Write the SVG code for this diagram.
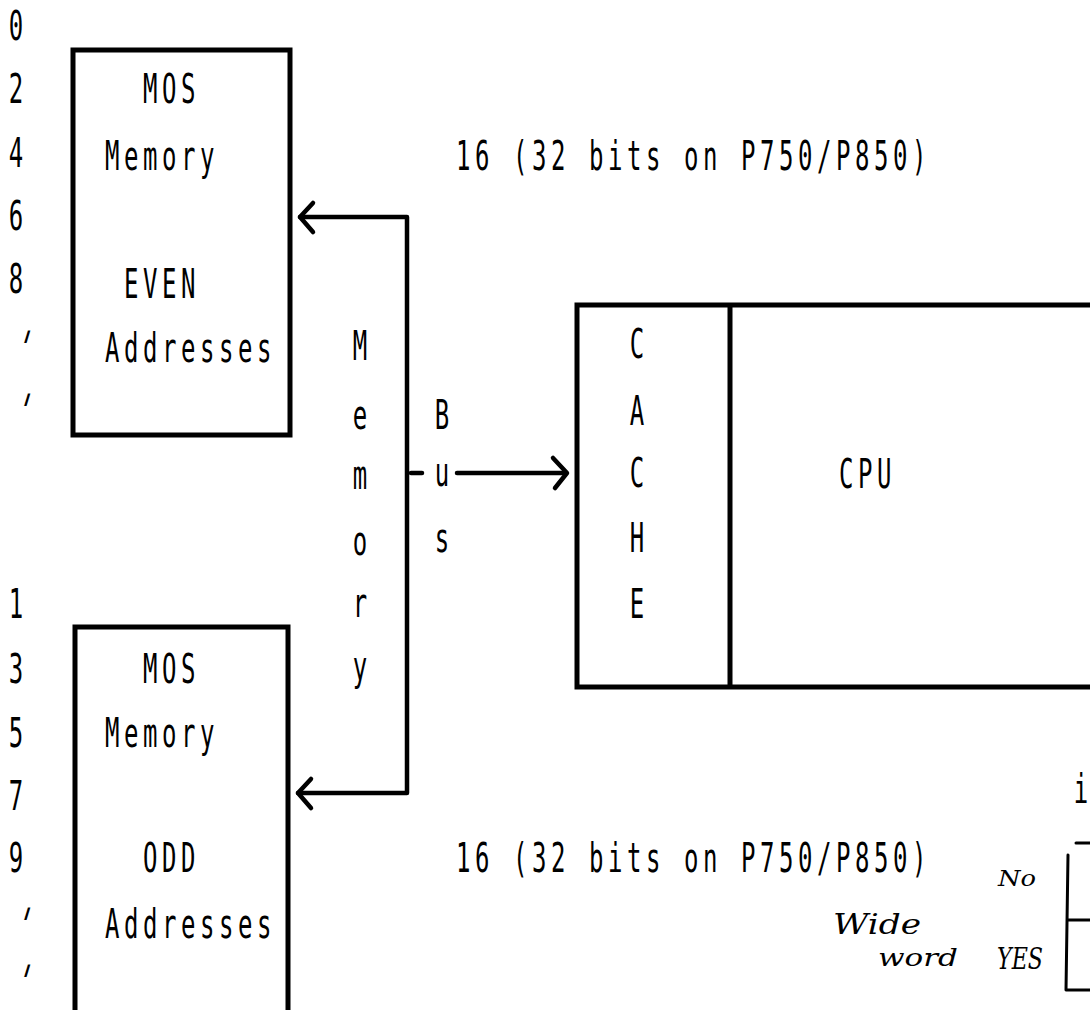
<svg xmlns="http://www.w3.org/2000/svg" width="1090" height="1010" viewBox="0 0 1090 1010">
<style>
.t{font-family:"DejaVu Sans Mono","Liberation Mono",monospace;font-size:40px;letter-spacing:7.6px;fill:#000;}
.c{font-family:"DejaVu Sans Mono","Liberation Mono",monospace;font-size:40px;fill:#000;text-anchor:middle;}
.h{font-family:"DejaVu Serif","Liberation Serif",serif;font-style:italic;fill:#000;}
.box{fill:none;stroke:#000;stroke-width:5;}
.ln{fill:none;stroke:#000;stroke-width:4.5;stroke-linecap:round;stroke-linejoin:round;}
.thin{fill:none;stroke:#000;stroke-width:3;stroke-linecap:round;stroke-linejoin:round;}
</style>
<rect width="1090" height="1010" fill="#fff"/>
<g id="addr-even">
<text class="c" transform="matrix(0.6 0 0 1 16 40)">0</text>
<text class="c" transform="matrix(0.6 0 0 1 16 103)">2</text>
<text class="c" transform="matrix(0.6 0 0 1 16 167)">4</text>
<text class="c" transform="matrix(0.6 0 0 1 16 230)">6</text>
<text class="c" transform="matrix(0.6 0 0 1 16 293)">8</text>
<text class="c" transform="matrix(0.7 0 -0.35 1.15 19 364)">'</text>
<text class="c" transform="matrix(0.7 0 -0.35 1.15 19 427)">'</text>
</g>
<g id="addr-odd">
<text class="c" transform="matrix(0.6 0 0 1 16 618)">1</text>
<text class="c" transform="matrix(0.6 0 0 1 16 683)">3</text>
<text class="c" transform="matrix(0.6 0 0 1 16 747)">5</text>
<text class="c" transform="matrix(0.6 0 0 1 16 810)">7</text>
<text class="c" transform="matrix(0.6 0 0 1 16 872)">9</text>
<text class="c" transform="matrix(0.7 0 -0.35 1.15 19 941)">'</text>
<text class="c" transform="matrix(0.7 0 -0.35 1.15 19 998)">'</text>
</g>
<g id="mem-even">
<rect class="box" x="73" y="50" width="217" height="385"/>
<text class="t" transform="matrix(0.6 0 0 1 143 103)">MOS</text>
<text class="t" transform="matrix(0.6 0 0 1 105 170)">Memory</text>
<text class="t" transform="matrix(0.6 0 0 1 124 298)">EVEN</text>
<text class="t" transform="matrix(0.6 0 0 1 105 362)">Addresses</text>
</g>
<g id="mem-odd">
<rect class="box" x="75" y="627" width="213" height="420"/>
<text class="t" transform="matrix(0.6 0 0 1 143 683)">MOS</text>
<text class="t" transform="matrix(0.6 0 0 1 105 747)">Memory</text>
<text class="t" transform="matrix(0.6 0 0 1 143 872)">ODD</text>
<text class="t" transform="matrix(0.6 0 0 1 105 938)">Addresses</text>
</g>
<g id="cpu">
<rect class="box" x="577" y="305" width="530" height="382"/>
<line class="box" x1="730" y1="305" x2="730" y2="687"/>
<text class="c" transform="matrix(0.6 0 0 1 637 358)">C</text>
<text class="c" transform="matrix(0.6 0 0 1 637 425)">A</text>
<text class="c" transform="matrix(0.6 0 0 1 637 487)">C</text>
<text class="c" transform="matrix(0.6 0 0 1 637 552)">H</text>
<text class="c" transform="matrix(0.6 0 0 1 637 618)">E</text>
<text class="t" transform="matrix(0.6 0 0 1 839 488)">CPU</text>
</g>
<g id="connectors">
<path class="ln" d="M300,217 H407 V793 H298"/>
<path class="ln" d="M313,203 L300,217 L313,232"/>
<path class="ln" d="M311,779 L298,793 L311,808"/>
<line class="ln" x1="411" y1="473" x2="422" y2="473"/>
<path class="ln" d="M457,473 H566"/>
<path class="ln" d="M553,458 L567,473 L555,488"/>
</g>
<g id="bus-label">
<text class="c" transform="matrix(0.6 0 0 1 360 360)">M</text>
<text class="c" transform="matrix(0.6 0 0 1 360 429)">e</text>
<text class="c" transform="matrix(0.6 0 0 1 360 489)">m</text>
<text class="c" transform="matrix(0.6 0 0 1 360 555)">o</text>
<text class="c" transform="matrix(0.6 0 0 1 360 617)">r</text>
<text class="c" transform="matrix(0.6 0 0 1 360 680)">y</text>
<text class="c" transform="matrix(0.6 0 0 1 442 429)">B</text>
<text class="c" transform="matrix(0.6 0 0 1 442 486)">u</text>
<text class="c" transform="matrix(0.6 0 0 1 442 552)">s</text>
</g>
<g id="width-labels">
<text class="t" transform="matrix(0.6 0 0 1 456 170)">16 (32 bits on P750/P850)</text>
<text class="t" transform="matrix(0.6 0 0 1 456 872)">16 (32 bits on P750/P850)</text>
</g>
<g id="notes">
<text class="c" transform="matrix(0.6 0 0 1 1081 803)">i</text>
<line class="thin" x1="1076" y1="843" x2="1090" y2="843"/>
<path class="thin" d="M1068,855 L1066,990 L1090,990"/>
<line class="thin" x1="1068" y1="920" x2="1090" y2="920"/>
<text class="h" x="998" y="886" font-size="22" textLength="38" lengthAdjust="spacingAndGlyphs">No</text>
<text class="h" x="997" y="969" font-size="30" textLength="46" lengthAdjust="spacingAndGlyphs">YES</text>
<text class="h" x="833" y="934" font-size="27" textLength="88" lengthAdjust="spacingAndGlyphs">Wide</text>
<text class="h" x="878" y="966" font-size="25" textLength="80" lengthAdjust="spacingAndGlyphs">word</text>
</g>
</svg>
